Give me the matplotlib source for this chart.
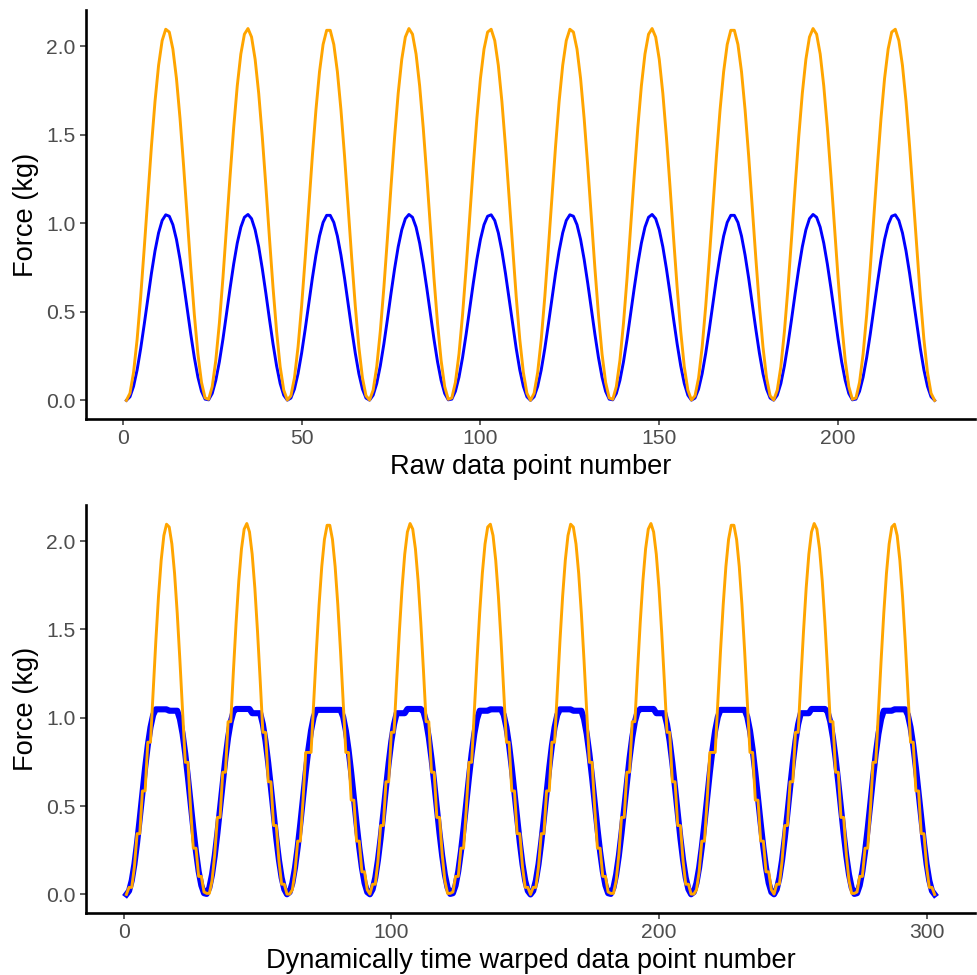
import numpy as np
import matplotlib
matplotlib.use('Agg')
import matplotlib.pyplot as plt

plt.rcParams['font.family'] = ['Liberation Sans', 'DejaVu Sans']

# raw force traces (kg), one value per sample
blue_raw = [
    0.000, 0.020, 0.079, 0.172, 0.293, 0.431, 0.576, 0.717, 0.844, 0.946, 1.016, 1.048, 1.040, 0.992, 0.909, 0.796, 0.662, 0.518, 0.374, 0.242, 0.131, 0.051, 0.007,
    0.003, 0.039, 0.113, 0.218, 0.346, 0.489, 0.634, 0.770, 0.888, 0.978, 1.034, 1.050, 1.026, 0.963, 0.867, 0.744, 0.605, 0.459, 0.319, 0.195, 0.095, 0.029, 0.001,
    0.013, 0.064, 0.151, 0.267, 0.402, 0.547, 0.690, 0.820, 0.928, 1.005, 1.045, 1.045, 1.005, 0.928, 0.820, 0.690, 0.547, 0.402, 0.267, 0.151, 0.064, 0.013,
    0.001, 0.029, 0.095, 0.195, 0.319, 0.459, 0.605, 0.744, 0.867, 0.963, 1.026, 1.050, 1.034, 0.978, 0.888, 0.770, 0.634, 0.489, 0.346, 0.218, 0.113, 0.039, 0.003,
    0.007, 0.051, 0.131, 0.242, 0.374, 0.518, 0.662, 0.796, 0.909, 0.992, 1.040, 1.048, 1.016, 0.946, 0.844, 0.717, 0.576, 0.431, 0.293, 0.172, 0.079, 0.020,
    0.000, 0.020, 0.079, 0.172, 0.293, 0.431, 0.576, 0.717, 0.844, 0.946, 1.016, 1.048, 1.040, 0.992, 0.909, 0.796, 0.662, 0.518, 0.374, 0.242, 0.131, 0.051, 0.007,
    0.003, 0.039, 0.113, 0.218, 0.346, 0.489, 0.634, 0.770, 0.888, 0.978, 1.034, 1.050, 1.026, 0.963, 0.867, 0.744, 0.605, 0.459, 0.319, 0.195, 0.095, 0.029, 0.001,
    0.013, 0.064, 0.151, 0.267, 0.402, 0.547, 0.690, 0.820, 0.928, 1.005, 1.045, 1.045, 1.005, 0.928, 0.820, 0.690, 0.547, 0.402, 0.267, 0.151, 0.064, 0.013,
    0.001, 0.029, 0.095, 0.195, 0.319, 0.459, 0.605, 0.744, 0.867, 0.963, 1.026, 1.050, 1.034, 0.978, 0.888, 0.770, 0.634, 0.489, 0.346, 0.218, 0.113, 0.039, 0.003,
    0.007, 0.051, 0.131, 0.242, 0.374, 0.518, 0.662, 0.796, 0.909, 0.992, 1.040, 1.048, 1.016, 0.946, 0.844, 0.717, 0.576, 0.431, 0.293, 0.172, 0.079, 0.020,
    0.000,
]

orange_raw = [
    0.000, 0.040, 0.158, 0.344, 0.586, 0.862, 1.152, 1.434, 1.688, 1.892, 2.032, 2.096, 2.080, 1.984, 1.818, 1.592, 1.324, 1.036, 0.748, 0.484, 0.262, 0.102, 0.014,
    0.006, 0.078, 0.226, 0.436, 0.692, 0.978, 1.268, 1.540, 1.776, 1.956, 2.068, 2.100, 2.052, 1.926, 1.734, 1.488, 1.210, 0.918, 0.638, 0.390, 0.190, 0.058, 0.002,
    0.026, 0.128, 0.302, 0.534, 0.804, 1.094, 1.380, 1.640, 1.856, 2.010, 2.090, 2.090, 2.010, 1.856, 1.640, 1.380, 1.094, 0.804, 0.534, 0.302, 0.128, 0.026,
    0.002, 0.058, 0.190, 0.390, 0.638, 0.918, 1.210, 1.488, 1.734, 1.926, 2.052, 2.100, 2.068, 1.956, 1.776, 1.540, 1.268, 0.978, 0.692, 0.436, 0.226, 0.078, 0.006,
    0.014, 0.102, 0.262, 0.484, 0.748, 1.036, 1.324, 1.592, 1.818, 1.984, 2.080, 2.096, 2.032, 1.892, 1.688, 1.434, 1.152, 0.862, 0.586, 0.344, 0.158, 0.040,
    0.000, 0.040, 0.158, 0.344, 0.586, 0.862, 1.152, 1.434, 1.688, 1.892, 2.032, 2.096, 2.080, 1.984, 1.818, 1.592, 1.324, 1.036, 0.748, 0.484, 0.262, 0.102, 0.014,
    0.006, 0.078, 0.226, 0.436, 0.692, 0.978, 1.268, 1.540, 1.776, 1.956, 2.068, 2.100, 2.052, 1.926, 1.734, 1.488, 1.210, 0.918, 0.638, 0.390, 0.190, 0.058, 0.002,
    0.026, 0.128, 0.302, 0.534, 0.804, 1.094, 1.380, 1.640, 1.856, 2.010, 2.090, 2.090, 2.010, 1.856, 1.640, 1.380, 1.094, 0.804, 0.534, 0.302, 0.128, 0.026,
    0.002, 0.058, 0.190, 0.390, 0.638, 0.918, 1.210, 1.488, 1.734, 1.926, 2.052, 2.100, 2.068, 1.956, 1.776, 1.540, 1.268, 0.978, 0.692, 0.436, 0.226, 0.078, 0.006,
    0.014, 0.102, 0.262, 0.484, 0.748, 1.036, 1.324, 1.592, 1.818, 1.984, 2.080, 2.096, 2.032, 1.892, 1.688, 1.434, 1.152, 0.862, 0.586, 0.344, 0.158, 0.040,
    0.000,
]

# warping path (0-based sample index into the raw traces) for each warped point
warp_orange_idx = [
    0, 1, 1, 2, 3, 3, 4, 4, 5, 5, 6, 7, 8, 9, 10, 11, 12, 13, 14, 15, 16, 17, 18, 18, 19, 20, 20, 21, 21, 22,
    23, 23, 24, 25, 26, 26, 27, 27, 28, 28, 29, 30, 31, 32, 33, 34, 35, 36, 37, 38, 39, 40, 40, 41, 41, 42, 42, 43, 44, 44,
    45, 45, 46, 47, 48, 48, 49, 50, 50, 50, 51, 52, 53, 54, 55, 56, 57, 58, 59, 60, 61, 62, 63, 63, 64, 64, 65, 65, 66, 66, 67,
    68, 69, 69, 70, 71, 71, 72, 72, 73, 73, 74, 75, 76, 77, 78, 79, 80, 81, 82, 83, 84, 85, 85, 86, 86, 87, 87, 88, 89, 90,
    90, 91, 92, 92, 93, 93, 94, 95, 95, 96, 97, 98, 99, 100, 101, 102, 103, 104, 105, 106, 107, 108, 108, 109, 109, 110, 110, 111, 112, 112,
    113, 114, 114, 115, 116, 116, 117, 117, 118, 118, 119, 120, 121, 122, 123, 124, 125, 126, 127, 128, 129, 130, 131, 131, 132, 133, 133, 134, 134, 135,
    136, 136, 137, 138, 139, 139, 140, 140, 141, 141, 142, 143, 144, 145, 146, 147, 148, 149, 150, 151, 152, 153, 153, 154, 154, 155, 155, 156, 157, 157,
    158, 158, 159, 160, 161, 161, 162, 163, 163, 163, 164, 165, 166, 167, 168, 169, 170, 171, 172, 173, 174, 175, 176, 176, 177, 177, 178, 178, 179, 179, 180,
    181, 182, 182, 183, 184, 184, 185, 185, 186, 186, 187, 188, 189, 190, 191, 192, 193, 194, 195, 196, 197, 198, 198, 199, 199, 200, 200, 201, 202, 203,
    203, 204, 205, 205, 206, 206, 207, 208, 208, 209, 210, 211, 212, 213, 214, 215, 216, 217, 218, 219, 220, 221, 221, 222, 222, 223, 223, 224, 225, 225,
    226,
]

warp_blue_idx = [
    0, 1, 2, 3, 4, 5, 6, 7, 8, 9, 10, 11, 11, 11, 11, 11, 12, 12, 12, 12, 13, 14, 15, 16, 17, 18, 19, 20, 21, 22,
    23, 24, 25, 26, 27, 28, 29, 30, 31, 32, 33, 34, 34, 34, 34, 34, 34, 35, 35, 35, 35, 36, 37, 38, 39, 40, 41, 42, 43, 44,
    45, 46, 47, 48, 49, 50, 51, 52, 53, 54, 55, 56, 56, 56, 56, 56, 57, 57, 57, 57, 57, 58, 59, 60, 61, 62, 63, 64, 65, 66, 67,
    68, 69, 70, 71, 72, 73, 74, 75, 76, 77, 78, 78, 78, 78, 79, 79, 79, 79, 79, 79, 80, 81, 82, 83, 84, 85, 86, 87, 88, 89,
    90, 91, 92, 93, 94, 95, 96, 97, 98, 99, 100, 101, 101, 101, 101, 102, 102, 102, 102, 102, 103, 104, 105, 106, 107, 108, 109, 110, 111, 112,
    113, 114, 115, 116, 117, 118, 119, 120, 121, 122, 123, 124, 124, 124, 124, 124, 125, 125, 125, 125, 126, 127, 128, 129, 130, 131, 132, 133, 134, 135,
    136, 137, 138, 139, 140, 141, 142, 143, 144, 145, 146, 147, 147, 147, 147, 147, 147, 148, 148, 148, 148, 149, 150, 151, 152, 153, 154, 155, 156, 157,
    158, 159, 160, 161, 162, 163, 164, 165, 166, 167, 168, 169, 169, 169, 169, 169, 170, 170, 170, 170, 170, 171, 172, 173, 174, 175, 176, 177, 178, 179, 180,
    181, 182, 183, 184, 185, 186, 187, 188, 189, 190, 191, 191, 191, 191, 192, 192, 192, 192, 192, 192, 193, 194, 195, 196, 197, 198, 199, 200, 201, 202,
    203, 204, 205, 206, 207, 208, 209, 210, 211, 212, 213, 214, 214, 214, 214, 215, 215, 215, 215, 215, 216, 217, 218, 219, 220, 221, 222, 223, 224, 225,
    226,
]

raw_xticks = [0, 50, 100, 150, 200]
warp_xticks = [0, 100, 200, 300]
yticks = [0.0, 0.5, 1.0, 1.5, 2.0]

blue_raw = np.array(blue_raw)
orange_raw = np.array(orange_raw)
x_raw = np.arange(1, len(blue_raw) + 1)

blue_warp = blue_raw[warp_blue_idx]
orange_warp = orange_raw[warp_orange_idx]
x_warp = np.arange(1, len(warp_blue_idx) + 1)

fig = plt.figure(figsize=(9.77, 9.75), dpi=100)
ax1 = fig.add_axes([0.088, 0.5703, 0.910, 0.4195])
ax2 = fig.add_axes([0.088, 0.0636, 0.910, 0.4185])


def style(ax, xticks, xlabel, npts):
    pad = (npts - 1) * 0.05
    ax.set_xlim(1 - pad, npts + pad)
    ax.set_ylim(-0.105, 2.205)
    ax.set_xticks(xticks)
    ax.set_yticks(yticks)
    ax.set_yticklabels(['%.1f' % v for v in yticks])
    for s in ['top', 'right']:
        ax.spines[s].set_visible(False)
    for s in ['left', 'bottom']:
        ax.spines[s].set_linewidth(1.9)
        ax.spines[s].set_color('black')
    ax.tick_params(length=4, width=1.1, color='#333333', labelcolor='#4d4d4d',
                   labelsize=15.2, pad=3.5)
    ax.set_xlabel(xlabel, fontsize=19.6, labelpad=4)
    ax.set_ylabel('Force (kg)', fontsize=19.6, labelpad=5)


ax1.plot(x_raw, blue_raw, color='#0000ff', lw=2.1)
ax1.plot(x_raw, orange_raw, color='#ffa500', lw=2.1)
style(ax1, raw_xticks, 'Raw data point number', len(x_raw))

ax2.plot(x_warp, blue_warp, color='#0000ff', lw=4.4)
ax2.plot(x_warp, orange_warp, color='#ffa500', lw=2.1)
style(ax2, warp_xticks, 'Dynamically time warped data point number', len(x_warp))

fig.savefig('out.png', dpi=100)
